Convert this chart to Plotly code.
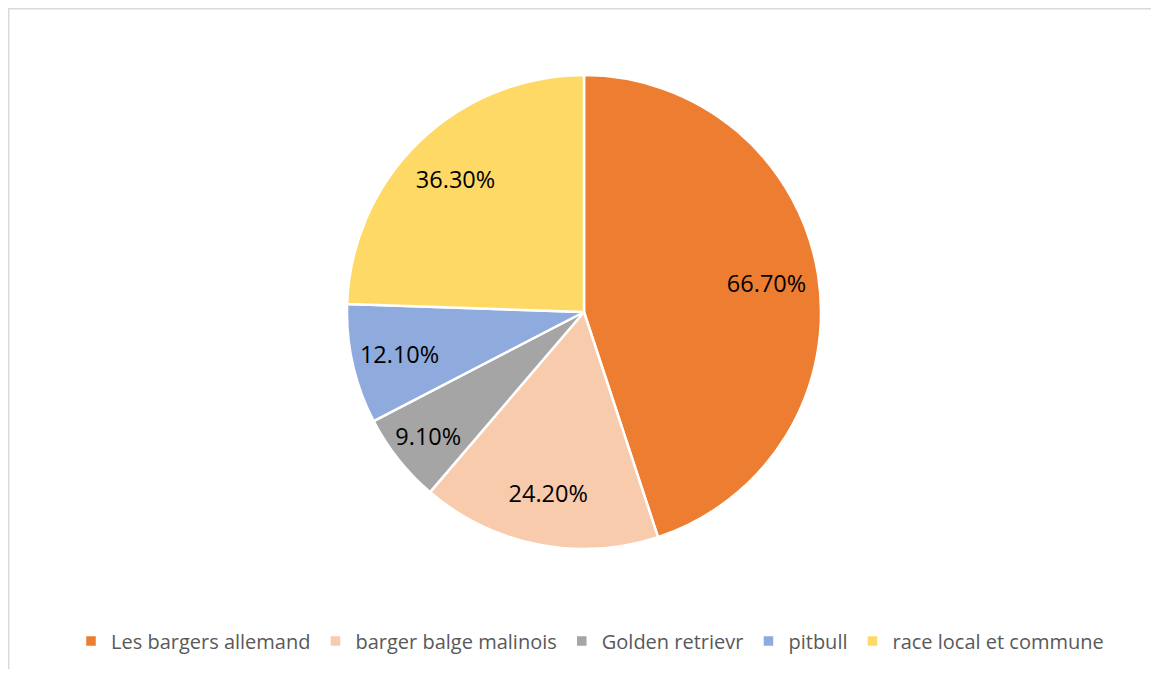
import plotly.graph_objects as go

categories = ["Les bargers allemand", "barger balge malinois", "Golden retrievr", "pitbull", "race local et commune"]
values = [66.7, 24.2, 9.1, 12.1, 36.3]
labels_text = ["66.70%", "24.20%", "9.10%", "12.10%", "36.30%"]
colors = ["#ED7D31", "#F8CBAD", "#A5A5A5", "#8FAADC", "#FFD966"]

# page body has an 8px margin, so the figure is drawn 8px in from the edges
W, H = 1143, 661
cx, cy, r = 576, 304, 237
dom = dict(x=[(cx - r) / W, (cx + r) / W], y=[1 - (cy + r) / H, 1 - (cy - r) / H])

fig = go.Figure()
fig.add_trace(go.Pie(
    labels=categories,
    values=values,
    sort=False,
    direction="clockwise",
    rotation=0,
    textinfo="none",
    marker=dict(colors=colors, line=dict(color="white", width=2.5)),
    domain=dom,
    hoverinfo="label+value",
))
# text-only ring so labels sit toward the outer part of each slice
fig.add_trace(go.Pie(
    labels=categories,
    values=values,
    text=labels_text,
    texttemplate="%{text}",
    textposition="inside",
    insidetextorientation="horizontal",
    sort=False,
    direction="clockwise",
    rotation=0,
    hole=0.56,
    showlegend=False,
    marker=dict(colors=["rgba(0,0,0,0)"] * len(values), line=dict(width=0)),
    textfont=dict(family="Open Sans", size=23.5, color="black"),
    domain=dom,
    hoverinfo="skip",
))

fig.update_layout(
    width=W, height=H,
    margin=dict(l=0, r=0, t=0, b=0),
    paper_bgcolor="white",
    showlegend=True,
    legend=dict(orientation="h", x=582 / W, xanchor="center", y=1 - 633 / H, yanchor="middle",
                font=dict(family="Open Sans", size=20, color="#595959"),
                itemwidth=30, traceorder="normal"),
    shapes=[
        dict(type="line", xref="paper", yref="paper", x0=0.7 / W, x1=0.7 / W, y0=0, y1=1,
             line=dict(color="#D9D9D9", width=1.5)),
        dict(type="line", xref="paper", yref="paper", x0=0, x1=1, y0=1 - 0.7 / H, y1=1 - 0.7 / H,
             line=dict(color="#D9D9D9", width=1.5)),
    ],
)

fig.write_html("out.html")
